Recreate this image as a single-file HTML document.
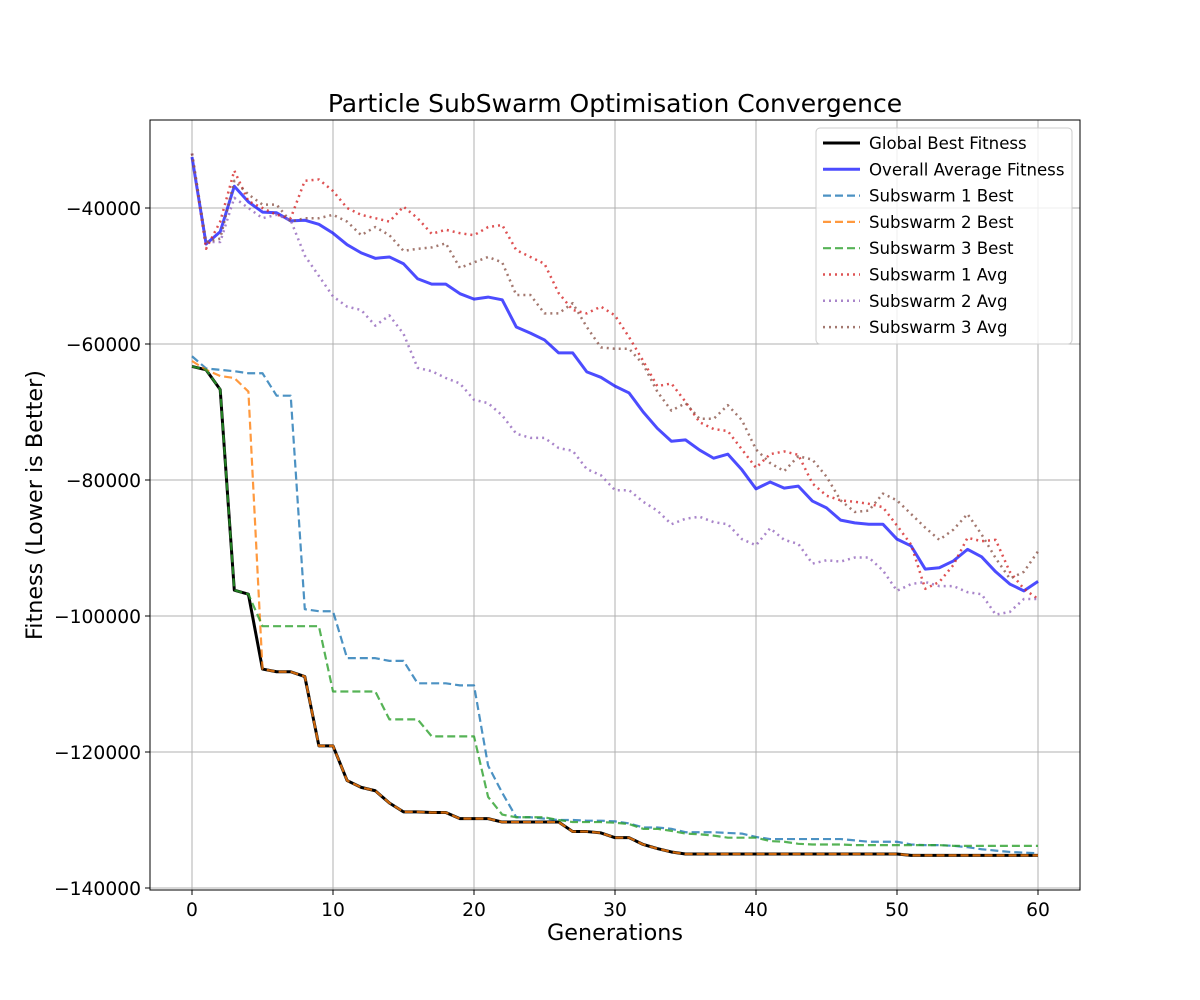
<!DOCTYPE html>
<html><head><meta charset="utf-8"><style>
body{margin:0;background:#fff;}
svg{display:block;font-family:"DejaVu Sans","Liberation Sans",sans-serif;}
</style></head><body>
<svg id="chart" width="1200" height="1000" viewBox="0 0 1200 1000">
<rect width="1200" height="1000" fill="#fff"/>
<g id="grid"></g>
<g id="series"></g>
<rect x="150" y="120" width="930" height="770" fill="none" stroke="#000" stroke-width="1"/>
<g id="ticks"></g>
<text x="615" y="112" text-anchor="middle" font-size="25">Particle SubSwarm Optimisation Convergence</text>
<text x="615" y="940" text-anchor="middle" font-size="22.3">Generations</text>
<text transform="translate(42,505) rotate(-90)" text-anchor="middle" font-size="22.3">Fitness (Lower is Better)</text>
<g id="legend"></g>
</svg>
<script>
const xTicks=[0,10,20,30,40,50,60];
const yTicks=[-40000,-60000,-80000,-100000,-120000,-140000];
const yTickLabels=["−40000","−60000","−80000","−100000","−120000","−140000"];
const seriesNames=["Global Best Fitness","Overall Average Fitness","Subswarm 1 Best","Subswarm 2 Best","Subswarm 3 Best","Subswarm 1 Avg","Subswarm 2 Avg","Subswarm 3 Avg"];
const globalBest=[-63300,-63800,-66700,-96200,-96800,-107800,-108200,-108200,-108900,-119100,-119100,-124200,-125200,-125700,-127500,-128800,-128800,-128900,-128900,-129800,-129800,-129800,-130300,-130300,-130300,-130300,-130300,-131700,-131700,-131900,-132600,-132600,-133600,-134200,-134700,-135000,-135000,-135000,-135000,-135000,-135000,-135000,-135000,-135000,-135000,-135000,-135000,-135000,-135000,-135000,-135000,-135200,-135200,-135200,-135200,-135200,-135200,-135200,-135200,-135200,-135200];
const overallAvg=[-32500,-45300,-43500,-36800,-39100,-40600,-40700,-41900,-41800,-42400,-43700,-45400,-46600,-47400,-47200,-48200,-50400,-51200,-51200,-52600,-53400,-53100,-53500,-57500,-58400,-59400,-61300,-61300,-64100,-64900,-66200,-67200,-70000,-72400,-74300,-74100,-75600,-76800,-76200,-78500,-81300,-80300,-81200,-80900,-83100,-84100,-85900,-86300,-86500,-86500,-88700,-89700,-93100,-92900,-91900,-90200,-91300,-93500,-95300,-96300,-94900];
const s1Best=[-61800,-63600,-63800,-64000,-64300,-64300,-67600,-67600,-99000,-99300,-99300,-106200,-106200,-106200,-106600,-106600,-109900,-109900,-109900,-110200,-110200,-122000,-126000,-129600,-129600,-129800,-130000,-130000,-130100,-130100,-130200,-130500,-131100,-131100,-131300,-131800,-131800,-131800,-131900,-132000,-132500,-132800,-132800,-132800,-132800,-132800,-132800,-133000,-133200,-133200,-133200,-133600,-133700,-133700,-133800,-134000,-134300,-134500,-134700,-134800,-134900];
const s2Best=[-62500,-63800,-64700,-65000,-67000,-107800,-108200,-108200,-108900,-119100,-119100,-124200,-125200,-125700,-127500,-128800,-128800,-128900,-128900,-129800,-129800,-129800,-130300,-130300,-130300,-130300,-130300,-131700,-131700,-131900,-132600,-132600,-133600,-134200,-134700,-135000,-135000,-135000,-135000,-135000,-135000,-135000,-135000,-135000,-135000,-135000,-135000,-135000,-135000,-135000,-135000,-135200,-135200,-135200,-135200,-135200,-135200,-135200,-135200,-135200,-135200];
const s3Best=[-63300,-63800,-66700,-96200,-96800,-101500,-101500,-101500,-101500,-101500,-111100,-111100,-111100,-111100,-115200,-115200,-115200,-117700,-117700,-117700,-117700,-126600,-129200,-129600,-129600,-129600,-130000,-130300,-130300,-130300,-130400,-130600,-131300,-131300,-131600,-132000,-132100,-132300,-132600,-132600,-132600,-133100,-133200,-133500,-133600,-133600,-133600,-133700,-133700,-133700,-133700,-133700,-133700,-133700,-133800,-133800,-133800,-133800,-133800,-133800,-133800];
const s1Avg=[-32000,-46000,-42000,-34500,-39000,-40000,-41000,-41500,-36000,-35800,-37500,-40000,-41000,-41500,-42000,-39800,-41500,-43800,-43200,-43700,-44000,-42800,-42500,-46200,-47200,-48200,-52500,-55000,-55500,-54500,-55800,-59000,-62500,-66200,-65800,-68500,-71500,-72500,-72800,-75500,-78200,-76200,-75800,-76300,-80500,-82300,-83000,-83200,-83500,-84000,-86700,-89500,-96000,-95000,-92500,-88500,-89000,-88800,-93500,-96000,-97500];
const s2Avg=[-32000,-45000,-45000,-38500,-40000,-41500,-41000,-41800,-47000,-50000,-53000,-54500,-55000,-57300,-55800,-58500,-63500,-64000,-65000,-65800,-68200,-68700,-70500,-73200,-73800,-73800,-75300,-75700,-78400,-79300,-81500,-81500,-83200,-84500,-86500,-85700,-85400,-86200,-86500,-88700,-89600,-87100,-88800,-89400,-92300,-91800,-92000,-91400,-91400,-93300,-96300,-95300,-95000,-95600,-95600,-96500,-96800,-99800,-99400,-97500,-97500];
const s3Avg=[-32000,-45000,-44500,-36000,-38000,-39500,-39500,-42000,-41500,-41500,-41000,-42000,-44000,-42800,-44000,-46300,-46000,-45800,-45200,-48800,-48000,-47200,-48000,-52800,-52800,-55500,-55500,-54000,-57500,-60500,-60700,-60700,-63000,-67000,-69800,-68700,-71000,-71000,-69000,-71200,-75500,-77500,-78700,-76500,-77000,-79500,-83000,-84700,-84500,-82000,-83000,-85000,-87000,-88800,-87300,-85000,-88000,-91500,-94500,-93500,-90500];

const X=v=>192+v*14.1;
const Y=v=>208+(-40000-v)*0.0068;
const NS="http://www.w3.org/2000/svg";
function mk(tag,parent,attrs){const e=document.createElementNS(NS,tag);for(const k in attrs)e.setAttribute(k,attrs[k]);parent.appendChild(e);return e;}
const grid=document.getElementById('grid'),ticks=document.getElementById('ticks'),ser=document.getElementById('series'),leg=document.getElementById('legend');
xTicks.forEach(t=>{
 const l=mk('line',grid,{x1:X(t),x2:X(t),y1:120,y2:890,stroke:'#b0b0b0','stroke-width':1});
 
 
 const tk=mk('line',ticks,{x1:X(t),x2:X(t),y1:890,y2:895,stroke:'#000'});
 
 
 const tx=mk('text',ticks,{x:X(t),y:916,'text-anchor':'middle','font-size':18.7});
 tx.textContent=t;
 
 
});
yTicks.forEach((t,i)=>{
 const l=mk('line',grid,{x1:150,x2:1080,y1:Y(t),y2:Y(t),stroke:'#b0b0b0','stroke-width':1});
 
 
 const tk=mk('line',ticks,{x1:145,x2:150,y1:Y(t),y2:Y(t),stroke:'#000'});
 
 
 const tx=mk('text',ticks,{x:141,y:Y(t)+7,'text-anchor':'end','font-size':18.7});
 tx.textContent=yTickLabels[i];
 
 
});
const data=[globalBest,overallAvg,s1Best,s2Best,s3Best,s1Avg,s2Avg,s3Avg];
const styles=[
 {stroke:'#000',w:3,dash:'',op:1},
 {stroke:'#0000ff',w:3,dash:'',op:0.7},
 {stroke:'#1f77b4',w:2.2,dash:'8,4',op:0.8},
 {stroke:'#ff7f0e',w:2.2,dash:'8,4',op:0.8},
 {stroke:'#2ca02c',w:2.2,dash:'8,4',op:0.8},
 {stroke:'#d62728',w:2.5,dash:'2,4',op:0.8},
 {stroke:'#9467bd',w:2.5,dash:'2,4',op:0.8},
 {stroke:'#8c564b',w:2.5,dash:'2,4',op:0.8}];
const keys=['global-best-line','overall-average-line','subswarm-1-best-line','subswarm-2-best-line','subswarm-3-best-line','subswarm-1-avg-line','subswarm-2-avg-line','subswarm-3-avg-line'];
data.forEach((d,i)=>{
 const s=styles[i];
 const p=mk('polyline',ser,{points:d.map((v,j)=>X(j)+','+Y(v)).join(' '),fill:'none',stroke:s.stroke,'stroke-width':s.w,'stroke-opacity':s.op,'stroke-dasharray':s.dash,'stroke-linejoin':'round'});
 
 
});
const box=mk('rect',leg,{x:816,y:128,width:256,height:216,rx:4,fill:'#fff','fill-opacity':0.8,stroke:'#ccc'});


seriesNames.forEach((n,i)=>{
 const s=styles[i],y=143+i*26.3;
 const l=mk('line',leg,{x1:823,x2:860,y1:y,y2:y,stroke:s.stroke,'stroke-width':s.w,'stroke-opacity':s.op,'stroke-dasharray':s.dash});
 
 
 const t=mk('text',leg,{x:869,y:y+6,'font-size':16.6});
 t.textContent=n;
 
 
});
</script>
</body></html>
